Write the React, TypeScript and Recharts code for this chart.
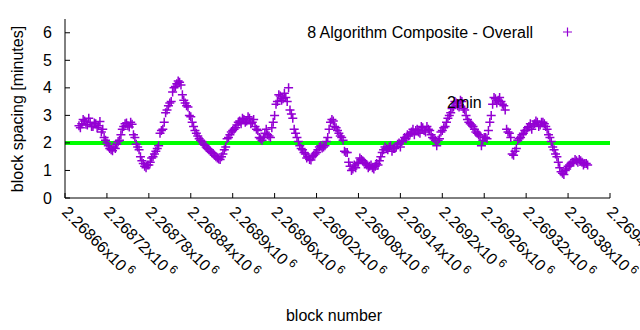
import React from "react";
import {
  ComposedChart,
  Scatter,
  Line,
  XAxis,
  YAxis,
} from "recharts";

// block numbers are consecutive; two interleaved samplings of the plotted blocks
const FIRST_BLOCK = 2268680;
const BLOCK_STEP = 4;

const spacingEven = [
  2.62, 2.7, 2.8, 2.65, 2.75, 2.6, 2.7, 2.62, 2.4, 2.2,
  2.0, 1.8, 1.72, 1.8, 2.05, 2.3, 2.6, 2.72, 2.58, 2.68,
  2.2, 1.85, 1.5, 1.25, 1.1, 1.2, 1.45, 1.6, 1.8, 2.35,
  2.5, 3.1, 3.35, 3.5, 4.0, 4.15, 4.2, 3.75, 3.45, 3.3,
  2.95, 2.6, 2.35, 2.15, 2.05, 1.92, 1.8, 1.7, 1.62, 1.5,
  1.42, 1.5, 1.75, 2.15, 2.3, 2.45, 2.55, 2.75, 2.7, 2.85,
  2.8, 2.9, 2.75, 2.6, 2.45, 2.15, 2.2, 2.5, 2.25, 2.55,
  3.0, 3.5, 3.7, 3.6, 3.65, 4.0, 3.05, 2.5, 2.2, 1.9,
  1.75, 1.6, 1.5, 1.38, 1.55, 1.65, 1.85, 1.82, 1.9, 2.2,
  2.75, 2.8, 2.55, 2.35, 2.2, 1.7, 1.65, 1.15, 1.05, 1.1,
  1.3, 1.4, 1.3, 1.2, 1.15, 1.1, 1.15, 1.2, 1.5, 1.75,
  1.8, 1.85, 1.7, 1.8, 1.95, 1.85, 2.1, 2.15, 2.25, 2.4,
  2.3, 2.5, 2.35, 2.55, 2.4, 2.5, 2.3, 2.15, 1.9, 2.15,
  2.45, 2.6, 2.9, 3.1, 3.3, 3.45, 3.3, 3.5, 3.2, 2.85,
  2.7, 2.6, 2.4, 2.3, 1.9, 2.2, 2.15, 2.75, 3.4, 3.6,
  3.55, 3.5, 3.35, 2.5, 2.35, 1.6, 1.7, 2.1, 2.2, 2.35,
  2.45, 2.6, 2.5, 2.7, 2.75, 2.65, 2.75, 2.6, 2.3, 2.05,
  1.75, 1.5, 1.1, 0.9, 1.0, 1.15, 1.25, 1.3, 1.35, 1.4, 1.3, 1.25, 1.2,
];

// the blocks in between (FIRST_BLOCK + 2 + i * BLOCK_STEP)
const spacingOdd = [
  2.55, 2.85, 2.68, 2.9, 2.6, 2.72, 2.55, 2.78, 2.5, 2.1,
  1.9, 1.75, 1.85, 1.95, 2.1, 2.5, 2.7, 2.62, 2.75, 2.3,
  1.95, 1.75, 1.35, 1.15, 1.2, 1.3, 1.5, 1.7, 1.9, 2.45,
  2.75, 3.2, 3.45, 3.85, 4.05, 4.25, 4.1, 3.55, 3.35, 3.0,
  2.75, 2.45, 2.25, 2.1, 1.95, 1.85, 1.75, 1.65, 1.55, 1.45,
  1.4, 1.6, 1.85, 2.2, 2.4, 2.5, 2.65, 2.8, 2.9, 2.75,
  2.95, 2.7, 2.85, 2.5, 2.2, 2.1, 2.35, 2.3, 2.2, 2.75,
  3.4, 3.75, 3.55, 3.8, 3.5, 3.2, 2.9, 2.35, 2.05, 1.8,
  1.65, 1.45, 1.4, 1.5, 1.6, 1.75, 1.9, 1.85, 2.05, 2.5,
  2.85, 2.6, 2.45, 2.25, 2.1, 1.65, 1.3, 1.0, 1.2, 1.25,
  1.45, 1.35, 1.25, 1.1, 1.2, 1.05, 1.25, 1.35, 1.65, 1.85,
  1.75, 1.9, 1.8, 1.85, 2.0, 2.05, 2.2, 2.3, 2.35, 2.5,
  2.45, 2.4, 2.6, 2.45, 2.6, 2.45, 2.2, 2.1, 2.1, 2.4,
  2.55, 2.75, 3.0, 3.25, 3.5, 3.35, 3.55, 3.25, 3.0, 2.75,
  2.65, 2.5, 2.35, 2.25, 2.1, 2.2, 2.45, 3.0, 3.65, 3.45,
  3.65, 3.4, 3.2, 2.4, 2.2, 1.55, 1.8, 2.15, 2.3, 2.45,
  2.55, 2.7, 2.65, 2.8, 2.6, 2.75, 2.7, 2.5, 2.2, 1.85,
  1.6, 1.3, 0.95, 0.85, 1.05, 1.2, 1.3, 1.4, 1.3, 1.35, 1.2, 1.25,
];

const targetBlocks = [2268660, 2269440];
const targetMinutes = [2, 2];

const xTicks = [
  2268660, 2268720, 2268780, 2268840, 2268900, 2268960, 2269020,
  2269080, 2269140, 2269200, 2269260, 2269320, 2269380, 2269440,
];
const xTickLabels = [
  "2.26866", "2.26872", "2.26878", "2.26884", "2.2689", "2.26896", "2.26902",
  "2.26908", "2.26914", "2.2692", "2.26926", "2.26932", "2.26938", "2.26944",
];
const yTicks = [0, 1, 2, 3, 4, 5, 6];

const PURPLE = "#9400d3";
const GREEN = "#00ff00";
const FONT = "'Liberation Sans', Arial, sans-serif";
const TICK_LEN = 5;

const points = [
  ...spacingEven.map((v, i) => ({ block: FIRST_BLOCK + i * BLOCK_STEP, minutes: v })),
  ...spacingOdd.map((v, i) => ({ block: FIRST_BLOCK + 2 + i * BLOCK_STEP, minutes: v })),
].sort((a, b) => a.block - b.block);
const targetLine = targetBlocks.map((b, i) => ({ block: b, minutes: targetMinutes[i] }));

function PlusMark(props: any) {
  const { cx, cy } = props;
  if (cx == null || cy == null) return null;
  const r = 4.5;
  return (
    <path
      d={`M${cx - r},${cy}H${cx + r}M${cx},${cy - r}V${cy + r}`}
      stroke={PURPLE}
      strokeWidth={1.5}
      fill="none"
    />
  );
}

function BottomTick(props: any) {
  const { x, y, index } = props;
  return (
    <g>
      <line x1={x} y1={y} x2={x} y2={y - TICK_LEN} stroke="#000" />
      <g transform={`translate(${x - 4},${y + 15}) rotate(45)`}>
        <text x={0} y={0} fontSize={16} fontFamily={FONT} fill="#000">
          {xTickLabels[index]}x10
          <tspan dx={3} dy={-6} fontSize={12}>6</tspan>
        </text>
      </g>
    </g>
  );
}

function TopTick(props: any) {
  const { x, y } = props;
  return <line x1={x} y1={y} x2={x} y2={y + TICK_LEN} stroke="#000" />;
}

function LeftTick(props: any) {
  const { x, y, payload } = props;
  return (
    <g>
      <line x1={x} y1={y} x2={x + TICK_LEN} y2={y} stroke="#000" />
      <text
        x={x - 13}
        y={y}
        textAnchor="end"
        dominantBaseline="central"
        fontSize={16}
        fontFamily={FONT}
        fill="#000"
      >
        {payload.value}
      </text>
    </g>
  );
}

function RightTick(props: any) {
  const { x, y } = props;
  return <line x1={x} y1={y} x2={x - TICK_LEN} y2={y} stroke="#000" />;
}

export default function App() {
  return (
    <div
      style={{
        position: "absolute",
        left: 0,
        top: 0,
        width: 640,
        height: 330,
        background: "#fff",
      }}
    >
      <ComposedChart
        width={640}
        height={330}
        margin={{ top: 19, right: 30, bottom: 0, left: 0 }}
      >
        <XAxis
          xAxisId="bottom"
          dataKey="block"
          type="number"
          domain={[2268660, 2269440]}
          ticks={xTicks}
          allowDataOverflow
          height={132}
          tickSize={0}
          tickMargin={0}
          tickLine={false}
          axisLine={{ stroke: "#000" }}
          tick={<BottomTick />}
          interval={0}
        />
        <XAxis
          xAxisId="top"
          orientation="top"
          dataKey="block"
          type="number"
          domain={[2268660, 2269440]}
          ticks={xTicks}
          allowDataOverflow
          height={0}
          tickSize={0}
          tickMargin={0}
          tickLine={false}
          axisLine={{ stroke: "#000" }}
          tick={<TopTick />}
          interval={0}
        />
        <YAxis
          yAxisId="left"
          type="number"
          domain={[0, 6.5]}
          ticks={yTicks}
          allowDataOverflow
          width={65}
          tickSize={0}
          tickMargin={0}
          tickLine={false}
          axisLine={{ stroke: "#000" }}
          tick={<LeftTick />}
          interval={0}
        />
        <YAxis
          yAxisId="right"
          orientation="right"
          type="number"
          domain={[0, 6.5]}
          ticks={yTicks}
          allowDataOverflow
          width={0}
          tickSize={0}
          tickMargin={0}
          tickLine={false}
          axisLine={{ stroke: "#000" }}
          tick={<RightTick />}
          interval={0}
        />
        <Scatter
          name="8 Algorithm Composite - Overall"
          data={points}
          dataKey="minutes"
          xAxisId="bottom"
          yAxisId="left"
          shape={<PlusMark />}
          isAnimationActive={false}
        />
        <Line
          name="2min"
          data={targetLine}
          dataKey="minutes"
          xAxisId="bottom"
          yAxisId="left"
          type="linear"
          stroke={GREEN}
          strokeWidth={4}
          dot={false}
          activeDot={false}
          isAnimationActive={false}
        />
      </ComposedChart>
      <svg
        width={640}
        height={330}
        style={{ position: "absolute", left: 0, top: 0, pointerEvents: "none" }}
        fontFamily={FONT}
      >
        <text x={533} y={38} textAnchor="end" fontSize={16} fill="#000">
          8 Algorithm Composite - Overall
        </text>
        <path d="M563,32H572M567.5,27.5V36.5" stroke={PURPLE} strokeWidth={1.2} />
        <text x={447} y={108} fontSize={16} fill="#000">
          2min
        </text>
        <text
          transform="translate(23,109) rotate(-90)"
          textAnchor="middle"
          fontSize={16}
          fill="#000"
        >
          block spacing [minutes]
        </text>
        <text x={334} y={321} textAnchor="middle" fontSize={16} fill="#000">
          block number
        </text>
      </svg>
    </div>
  );
}
